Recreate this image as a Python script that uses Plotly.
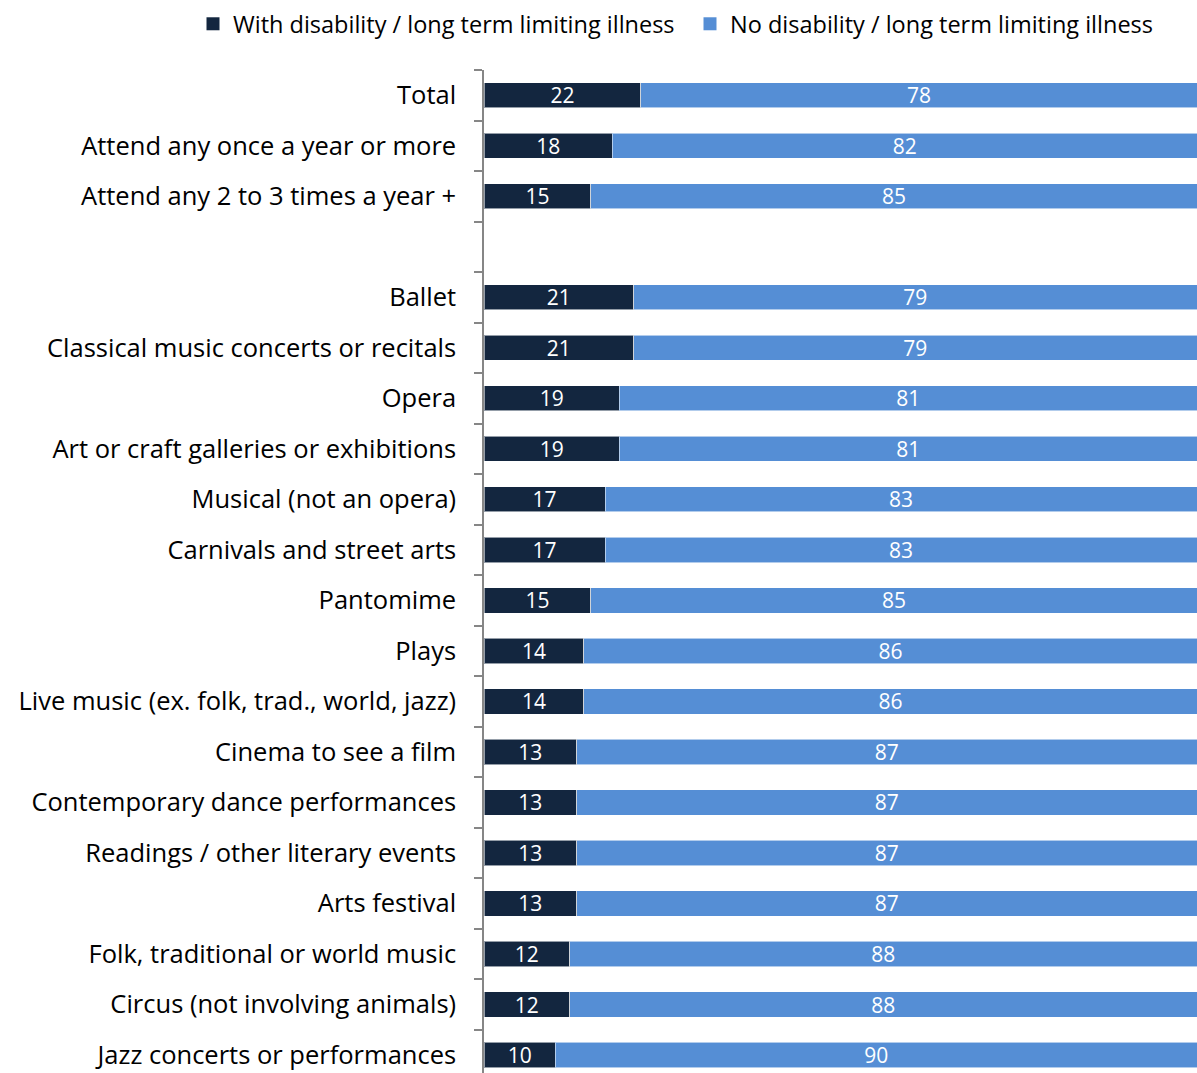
import plotly.graph_objects as go

# Attendance profile by disability status (% of attenders)
categories = [
    "Total",
    "Attend any once a year or more",
    "Attend any 2 to 3 times a year +",
    " ",
    "Ballet",
    "Classical music concerts or recitals",
    "Opera",
    "Art or craft galleries or exhibitions",
    "Musical (not an opera)",
    "Carnivals and street arts",
    "Pantomime",
    "Plays",
    "Live music (ex. folk, trad., world, jazz)",
    "Cinema to see a film",
    "Contemporary dance performances",
    "Readings / other literary events",
    "Arts festival",
    "Folk, traditional or world music",
    "Circus (not involving animals)",
    "Jazz concerts or performances",
]
bar_categories = [c for c in categories if c.strip()]
with_disability = [22, 18, 15, 21, 21, 19, 19, 17, 17, 15, 14, 14, 13, 13, 13, 13, 12, 12, 10]
no_disability = [78, 82, 85, 79, 79, 81, 81, 83, 83, 85, 86, 86, 87, 87, 87, 87, 88, 88, 90]

series_names = ["With disability / long term limiting illness",
                "No disability / long term limiting illness"]
colors = ["#13263F", "#558ED5"]

FONT = "Open Sans"
PLOT_L, PLOT_T, W, H = 484, 70, 1197, 1073
plot_w, plot_h = W - PLOT_L, H - PLOT_T

fig = go.Figure()
for name, vals, col in zip(series_names, [with_disability, no_disability], colors):
    fig.add_trace(go.Bar(
        y=bar_categories, x=vals, orientation="h", name=name,
        marker=dict(color=col, line=dict(color="rgba(255,255,255,0.55)", width=1)),
        text=[str(v) for v in vals], textposition="inside", insidetextanchor="middle",
        textangle=0, constraintext="none",
        textfont=dict(color="white", size=21, family=FONT),
        showlegend=False, hoverinfo="skip",
    ))
    # square swatch for the legend
    fig.add_trace(go.Scatter(
        x=[None], y=[None], mode="markers", name=name,
        marker=dict(symbol="square", size=13, color=col),
    ))

fig.update_layout(
    width=W, height=H,
    barmode="stack", bargap=0.5,
    plot_bgcolor="white", paper_bgcolor="white",
    margin=dict(l=PLOT_L, r=0, t=PLOT_T, b=0, autoexpand=False),
    font=dict(family=FONT, size=23, color="#000000"),
    legend=dict(orientation="h",
                x=(193 - PLOT_L) / plot_w, xanchor="left",
                y=1 + (PLOT_T - 2) / plot_h, yanchor="top",
                font=dict(size=23.5), itemwidth=30, entrywidth=452,
                traceorder="normal", bgcolor="rgba(0,0,0,0)"),
)
fig.update_xaxes(range=[0, 100], visible=False, fixedrange=True)
fig.update_yaxes(
    type="category", categoryorder="array", categoryarray=categories,
    range=[19.356, -0.5], tickson="boundaries",
    showline=True, linecolor="#868686", linewidth=1.5,
    ticks="outside", ticklen=8, tickcolor="#868686", tickwidth=1.5,
    ticklabelstandoff=21, showgrid=False, tickfont=dict(size=25.5),
)

fig.write_html("out.html")
